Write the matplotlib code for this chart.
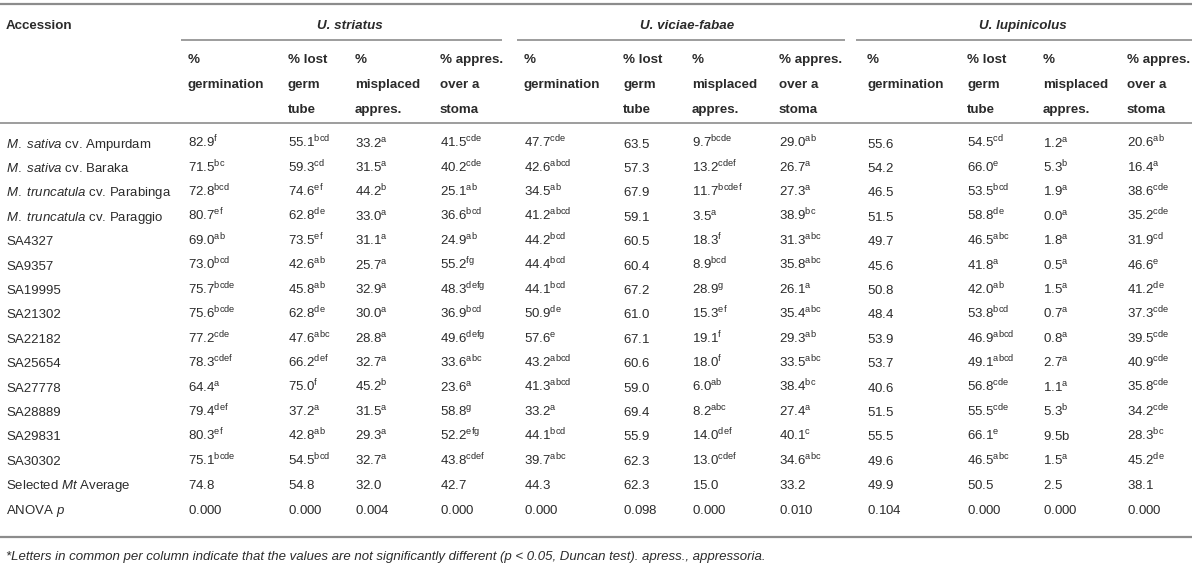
import matplotlib
matplotlib.use("Agg")
import matplotlib.pyplot as plt

plt.rcParams["font.family"] = "Liberation Sans"
plt.rcParams["mathtext.fontset"] = "custom"
plt.rcParams["mathtext.rm"] = "Liberation Sans"
plt.rcParams["mathtext.it"] = "Liberation Sans:italic"
plt.rcParams["mathtext.bf"] = "Liberation Sans:bold"

# Table data
accessions = [r"$\mathit{M.}$ $\mathit{sativa}$ cv. Ampurdam", r"$\mathit{M.}$ $\mathit{sativa}$ cv. Baraka",
              r"$\mathit{M.}$ $\mathit{truncatula}$ cv. Parabinga", r"$\mathit{M.}$ $\mathit{truncatula}$ cv. Paraggio",
              "SA4327", "SA9357", "SA19995", "SA21302", "SA22182", "SA25654",
              "SA27778", "SA28889", "SA29831", "SA30302"]
species = ["U. striatus", "U. viciae-fabae", "U. lupinicolus"]
col_heads = [["%", "germination", ""], ["% lost", "germ", "tube"],
             ["%", "misplaced", "appres."], ["% appres.", "over a", "stoma"]]

# U. striatus
str_germ = [82.9, 71.5, 72.8, 80.7, 69.0, 73.0, 75.7, 75.6, 77.2, 78.3, 64.4, 79.4, 80.3, 75.1]
str_germ_sig = ["f", "bc", "bcd", "ef", "ab", "bcd", "bcde", "bcde", "cde", "cdef", "a", "def", "ef", "bcde"]
str_lost = [55.1, 59.3, 74.6, 62.8, 73.5, 42.6, 45.8, 62.8, 47.6, 66.2, 75.0, 37.2, 42.8, 54.5]
str_lost_sig = ["bcd", "cd", "ef", "de", "ef", "ab", "ab", "de", "abc", "def", "f", "a", "ab", "bcd"]
str_mis = [33.2, 31.5, 44.2, 33.0, 31.1, 25.7, 32.9, 30.0, 28.8, 32.7, 45.2, 31.5, 29.3, 32.7]
str_mis_sig = ["a", "a", "b", "a", "a", "a", "a", "a", "a", "a", "b", "a", "a", "a"]
str_sto = [41.5, 40.2, 25.1, 36.6, 24.9, 55.2, 48.3, 36.9, 49.6, 33.6, 23.6, 58.8, 52.2, 43.8]
str_sto_sig = ["cde", "cde", "ab", "bcd", "ab", "fg", "defg", "bcd", "defg", "abc", "a", "g", "efg", "cdef"]
str_avg = [74.8, 54.8, 32.0, 42.7]
str_p = [0.000, 0.000, 0.004, 0.000]

# U. viciae-fabae
vic_germ = [47.7, 42.6, 34.5, 41.2, 44.2, 44.4, 44.1, 50.9, 57.6, 43.2, 41.3, 33.2, 44.1, 39.7]
vic_germ_sig = ["cde", "abcd", "ab", "abcd", "bcd", "bcd", "bcd", "de", "e", "abcd", "abcd", "a", "bcd", "abc"]
vic_lost = [63.5, 57.3, 67.9, 59.1, 60.5, 60.4, 67.2, 61.0, 67.1, 60.6, 59.0, 69.4, 55.9, 62.3]
vic_lost_sig = [""] * 14
vic_mis = [9.7, 13.2, 11.7, 3.5, 18.3, 8.9, 28.9, 15.3, 19.1, 18.0, 6.0, 8.2, 14.0, 13.0]
vic_mis_sig = ["bcde", "cdef", "bcdef", "a", "f", "bcd", "g", "ef", "f", "f", "ab", "abc", "def", "cdef"]
vic_sto = [29.0, 26.7, 27.3, 38.9, 31.3, 35.8, 26.1, 35.4, 29.3, 33.5, 38.4, 27.4, 40.1, 34.6]
vic_sto_sig = ["ab", "a", "a", "bc", "abc", "abc", "a", "abc", "ab", "abc", "bc", "a", "c", "abc"]
vic_avg = [44.3, 62.3, 15.0, 33.2]
vic_p = [0.000, 0.098, 0.000, 0.010]

# U. lupinicolus ("~" = letter printed inline, as in the source)
lup_germ = [55.6, 54.2, 46.5, 51.5, 49.7, 45.6, 50.8, 48.4, 53.9, 53.7, 40.6, 51.5, 55.5, 49.6]
lup_germ_sig = [""] * 14
lup_lost = [54.5, 66.0, 53.5, 58.8, 46.5, 41.8, 42.0, 53.8, 46.9, 49.1, 56.8, 55.5, 66.1, 46.5]
lup_lost_sig = ["cd", "e", "bcd", "de", "abc", "a", "ab", "bcd", "abcd", "abcd", "cde", "cde", "e", "abc"]
lup_mis = [1.2, 5.3, 1.9, 0.0, 1.8, 0.5, 1.5, 0.7, 0.8, 2.7, 1.1, 5.3, 9.5, 1.5]
lup_mis_sig = ["a", "b", "a", "a", "a", "a", "a", "a", "a", "a", "a", "b", "~b", "a"]
lup_sto = [20.6, 16.4, 38.6, 35.2, 31.9, 46.6, 41.2, 37.3, 39.5, 40.9, 35.8, 34.2, 28.3, 45.2]
lup_sto_sig = ["ab", "a", "cde", "cde", "cd", "e", "de", "cde", "cde", "cde", "cde", "cde", "bc", "de"]
lup_avg = [49.9, 50.5, 2.5, 38.1]
lup_p = [0.104, 0.000, 0.000, 0.000]

footnote = ("*Letters in common per column indicate that the values are not significantly "
            "different (p < 0.05, Duncan test). apress., appressoria.")

columns = [
    [(str_germ, str_germ_sig), (str_lost, str_lost_sig), (str_mis, str_mis_sig), (str_sto, str_sto_sig)],
    [(vic_germ, vic_germ_sig), (vic_lost, vic_lost_sig), (vic_mis, vic_mis_sig), (vic_sto, vic_sto_sig)],
    [(lup_germ, lup_germ_sig), (lup_lost, lup_lost_sig), (lup_mis, lup_mis_sig), (lup_sto, lup_sto_sig)],
]
averages = [str_avg, vic_avg, lup_avg]
anova = [str_p, vic_p, lup_p]

# layout (pixels)
W, H = 1200, 566
col_x = [[188, 288, 355, 440], [524, 623, 692, 779], [867, 967, 1043, 1127]]
group_span = [(181, 502), (517, 845), (856, 1192)]
title_x = [350, 687, 1023]
head_y = [58, 83, 108]
row_y0, row_dy = 143, 24.4
FS, FS_B = 9.5, 9.6
BASE_OFF = 4.6     # row centre -> baseline
TXT = "#2b2b2b"
LINE = "#8c8c8c"

fig = plt.figure(figsize=(W / 100, H / 100), dpi=100)
ax = fig.add_axes([0, 0, 1, 1])
ax.set_xlim(0, W)
ax.set_ylim(H, 0)
ax.axis("off")


def cell(x, y, v, s, fmt="{:.1f}"):
    txt = fmt.format(v)
    if s.startswith("~"):
        txt = f"$\\mathrm{{{txt}{s[1:]}}}$"
    elif s:
        txt = f"$\\mathrm{{{txt}}}^{{\\mathrm{{{s}}}}}$"
    else:
        txt = f"$\\mathrm{{{txt}}}$"
    ax.text(x, y + BASE_OFF, txt, fontsize=FS, color=TXT, va="baseline")


# rules
ax.hlines([4, 537], 0, 1192, color=LINE, lw=1.6)
ax.hlines(123, 0, 1192, color=LINE, lw=1.2)
for x0, x1 in group_span:
    ax.hlines(40, x0, x1, color=LINE, lw=1.2)

# header
ax.text(6, 24 + BASE_OFF, "Accession", fontsize=FS_B, fontweight="bold", color=TXT, va="baseline")
for x, name in zip(title_x, species):
    ax.text(x, 24 + BASE_OFF, name, fontsize=FS_B, fontweight="bold", style="italic",
            color=TXT, va="baseline", ha="center")
for xs in col_x:
    for x, lines in zip(xs, col_heads):
        for y, t in zip(head_y, lines):
            ax.text(x, y + BASE_OFF, t, fontsize=FS_B, fontweight="bold", color=TXT, va="baseline")

# body
for i, name in enumerate(accessions):
    y = row_y0 + i * row_dy
    ax.text(6, y + BASE_OFF, name, fontsize=FS, color=TXT, va="baseline")
    for g in range(3):
        for c, (vals, sigs) in enumerate(columns[g]):
            cell(col_x[g][c], y, vals[i], sigs[i])

n = len(accessions)
y_avg = row_y0 + n * row_dy
y_p = row_y0 + (n + 1) * row_dy
ax.text(6, y_avg + BASE_OFF, r"Selected $\mathit{Mt}$ Average", fontsize=FS, color=TXT, va="baseline")
ax.text(6, y_p + BASE_OFF, r"ANOVA $\mathit{p}$", fontsize=FS, color=TXT, va="baseline")
for g in range(3):
    for c in range(4):
        cell(col_x[g][c], y_avg, averages[g][c], "")
        cell(col_x[g][c], y_p, anova[g][c], "", fmt="{:.3f}")

ax.text(6, 556 + BASE_OFF - 0.5, footnote, fontsize=9.5, style="italic", color=TXT, va="baseline")

fig.savefig("out.png", dpi=100)
